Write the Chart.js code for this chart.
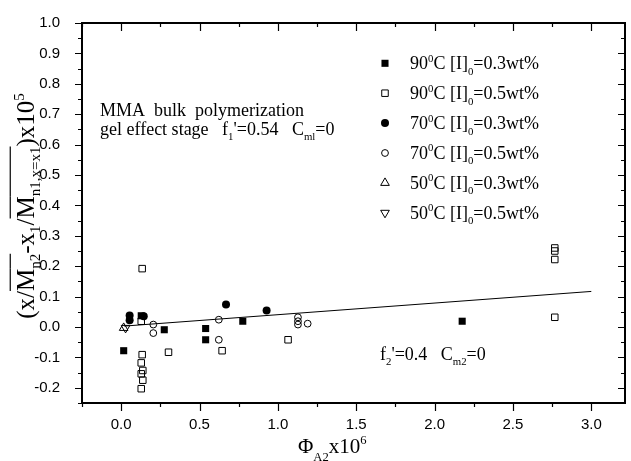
<!DOCTYPE html>
<html>
<head>
<meta charset="utf-8">
<script src="https://cdn.jsdelivr.net/npm/chart.js@4/dist/chart.umd.min.js"></script>
<style>
html,body{margin:0;padding:0;background:#fff;}
canvas{display:block;}
</style>
</head>
<body>
<canvas id="c" width="631" height="461"></canvas>
<script>
// ---- data ----
const xTicks = [0.0, 0.5, 1.0, 1.5, 2.0, 2.5, 3.0];
const yTicks = [-0.2, -0.1, 0.0, 0.1, 0.2, 0.3, 0.4, 0.5, 0.6, 0.7, 0.8, 0.9, 1.0];

const s90_03_x = [0.016, 0.128, 0.275, 0.539, 0.539, 0.776, 2.176];
const s90_03_y = [-0.078, 0.037, -0.009, -0.005, -0.042, 0.019, 0.019];

const s90_05_x = [0.134, 0.128, 0.302, 0.644, 1.065, 0.134, 0.128, 0.138, 0.128, 0.138, 0.128, 2.767, 2.767, 2.767, 2.767];
const s90_05_y = [0.192, 0.019, -0.083, -0.078, -0.042, -0.091, -0.118, -0.143, -0.154, -0.175, -0.203, 0.032, 0.222, 0.250, 0.260];

const s70_03_x = [0.054, 0.054, 0.144, 0.669, 0.928];
const s70_03_y = [0.038, 0.022, 0.035, 0.074, 0.054];

const s70_05_x = [0.205, 0.205, 0.623, 0.623, 1.128, 1.128, 1.128, 1.190];
const s70_05_y = [0.008, -0.020, 0.024, -0.042, 0.032, 0.019, 0.008, 0.011];

const s50_03_x = [0.016];
const s50_03_y = [-0.003];

const s50_05_x = [0.028];
const s50_05_y = [-0.003];

const fitX = [0.02, 3.0];
const fitY = [0.003, 0.117];

const legendLabels = [
  ["90", "0", "C [I]", "0", "=0.3wt%"],
  ["90", "0", "C [I]", "0", "=0.5wt%"],
  ["70", "0", "C [I]", "0", "=0.3wt%"],
  ["70", "0", "C [I]", "0", "=0.5wt%"],
  ["50", "0", "C [I]", "0", "=0.3wt%"],
  ["50", "0", "C [I]", "0", "=0.5wt%"]
];

// ---- helpers ----
const pts = (xs, ys) => xs.map((x, i) => ({x: x, y: ys[i]}));
const SERIF = '"Liberation Serif", "Times New Roman", serif';
const SANS = '"Liberation Sans", Arial, sans-serif';

const styles = [
  {pointStyle: 'rect', radius: 5, fill: '#000', rotation: 0},
  {pointStyle: 'rect', radius: 4.6, fill: 'rgba(0,0,0,0)', rotation: 0},
  {pointStyle: 'circle', radius: 4, fill: '#000', rotation: 0},
  {pointStyle: 'circle', radius: 3.4, fill: 'rgba(0,0,0,0)', rotation: 0},
  {pointStyle: 'triangle', radius: 5, fill: 'rgba(0,0,0,0)', rotation: 0},
  {pointStyle: 'triangle', radius: 5, fill: 'rgba(0,0,0,0)', rotation: 180}
];
const seriesData = [
  pts(s90_03_x, s90_03_y),
  pts(s90_05_x, s90_05_y),
  pts(s70_03_x, s70_03_y),
  pts(s70_05_x, s70_05_y),
  pts(s50_03_x, s50_03_y),
  pts(s50_05_x, s50_05_y)
];

const datasets = seriesData.map((d, i) => ({
  type: 'scatter',
  data: d,
  pointStyle: styles[i].pointStyle,
  pointRadius: styles[i].radius,
  pointRotation: styles[i].rotation,
  backgroundColor: styles[i].fill,
  borderColor: '#000',
  borderWidth: styles[i].fill === '#000' ? 0 : 1
}));
datasets.push({
  type: 'line',
  data: pts(fitX, fitY),
  borderColor: '#000',
  borderWidth: 1,
  pointRadius: 0,
  fill: false,
  tension: 0
});

function drawRich(ctx, segs, x, y, size, family, subOff) {
  const so = subOff || 0.25;
  let cx = x;
  for (const s of segs) {
    let fs = size, dy = 0;
    if (s.k === 'sup') { fs = size * 0.6; dy = -size * 0.42; }
    else if (s.k === 'sub') { fs = size * 0.6; dy = size * so; }
    ctx.font = fs + 'px ' + family;
    ctx.fillText(s.t, cx, y + dy);
    const w = ctx.measureText(s.t).width;
    if (s.over) {
      ctx.save();
      ctx.lineWidth = 1.2;
      ctx.beginPath();
      ctx.moveTo(cx, y - size * 0.95);
      ctx.lineTo(cx + w, y - size * 0.95);
      ctx.stroke();
      ctx.restore();
    }
    cx += w;
  }
  return cx - x;
}
function richWidth(ctx, segs, size, family) {
  let w = 0;
  for (const s of segs) {
    const fs = (s.k === 'sup' || s.k === 'sub') ? size * 0.6 : size;
    ctx.font = fs + 'px ' + family;
    w += ctx.measureText(s.t).width;
  }
  return w;
}

function marker(ctx, st, x, y) {
  ctx.save();
  ctx.fillStyle = st.fill;
  ctx.strokeStyle = '#000';
  ctx.lineWidth = 1;
  const r = st.radius;
  ctx.beginPath();
  if (st.pointStyle === 'rect') {
    const h = r * Math.SQRT1_2;
    ctx.rect(x - h, y - h, 2 * h, 2 * h);
  } else if (st.pointStyle === 'circle') {
    ctx.arc(x, y, r, 0, Math.PI * 2);
  } else {
    const rot = st.rotation * Math.PI / 180;
    for (let k = 0; k < 3; k++) {
      const a = rot - Math.PI / 2 + k * 2 * Math.PI / 3;
      const px = x + Math.cos(a) * r, py = y + Math.sin(a) * r;
      if (k === 0) ctx.moveTo(px, py); else ctx.lineTo(px, py);
    }
    ctx.closePath();
  }
  if (st.fill === '#000') ctx.fill(); else ctx.stroke();
  ctx.restore();
}

const decor = {
  id: 'decor',
  afterDatasetsDraw(chart) {
    const ctx = chart.ctx;
    const a = chart.chartArea;
    const xs = chart.scales.x, ys = chart.scales.y;
    ctx.save();
    ctx.strokeStyle = '#000';
    ctx.fillStyle = '#000';
    // ticks
    ctx.lineWidth = 1.2;
    ctx.beginPath();
    for (let v = -0.25; v <= 3.2001; v += 0.25) {
      const px = Math.round(xs.getPixelForValue(v)) + 0.5;
      const major = Math.abs(v / 0.5 - Math.round(v / 0.5)) < 1e-6;
      const L = major ? 8 : 4;
      ctx.moveTo(px, a.bottom); ctx.lineTo(px, a.bottom + L);
      ctx.moveTo(px, a.top); ctx.lineTo(px, a.top + L);
    }
    for (let v = -0.25; v <= 1.0001; v += 0.05) {
      const py = Math.round(ys.getPixelForValue(v)) + 0.5;
      const major = Math.abs(v / 0.1 - Math.round(v / 0.1)) < 1e-6;
      const L = major ? 7 : 4;
      ctx.moveTo(a.left, py); ctx.lineTo(a.left - L, py);
      ctx.moveTo(a.right, py); ctx.lineTo(a.right - L, py);
    }
    ctx.stroke();
    // frame
    ctx.lineWidth = 2;
    ctx.strokeRect(a.left, a.top, a.right - a.left, a.bottom - a.top);

    // legend
    ctx.textBaseline = 'alphabetic';
    ctx.textAlign = 'left';
    const ly0 = 63.3, ldy = 29.9;
    legendLabels.forEach((lab, i) => {
      const cy = ly0 + i * ldy;
      marker(ctx, styles[i], 385, cy);
      drawRich(ctx, [
        {t: lab[0]}, {t: lab[1], k: 'sup'}, {t: lab[2]}, {t: lab[3], k: 'sub'}, {t: lab[4]}
      ], 410, cy + 6, 18, SERIF, 0.3);
    });

    // annotations
    drawRich(ctx, [{t: 'MMA  bulk  polymerization'}], 100, 116, 18, SERIF);
    drawRich(ctx, [
      {t: 'gel effect stage   f'}, {t: '1', k: 'sub'}, {t: "'=0.54   C"}, {t: 'ml', k: 'sub'}, {t: '=0'}
    ], 100, 135, 18, SERIF, 0.3);
    drawRich(ctx, [
      {t: 'f'}, {t: '2', k: 'sub'}, {t: "'=0.4   C"}, {t: 'm2', k: 'sub'}, {t: '=0'}
    ], 380, 360, 18, SERIF, 0.3);

    // x title
    drawRich(ctx, [{t: '\u03A6'}, {t: 'A2', k: 'sub'}, {t: 'x10'}, {t: '6', k: 'sup'}], 298, 453, 21, SERIF, 0.36);

    // y title (rotated)
    const ySegs = [
      {t: '(x/'}, {t: 'M', over: true}, {t: 'n2', k: 'sub', over: true}, {t: '-x'}, {t: '1', k: 'sub'},
      {t: '/'}, {t: 'M', over: true}, {t: 'n1,x=x1', k: 'sub', over: true}, {t: ')x10'}, {t: '5', k: 'sup'}
    ];
    const yFs = 25;
    const tw = richWidth(ctx, ySegs, yFs, SERIF);
    ctx.translate(34, 206);
    ctx.rotate(-Math.PI / 2);
    drawRich(ctx, ySegs, -tw / 2, 0, yFs, SERIF);
    ctx.restore();
  }
};

new Chart(document.getElementById('c'), {
  data: {datasets: datasets},
  options: {
    responsive: false,
    animation: false,
    events: [],
    layout: {padding: {top: 22, right: 1, left: 0, bottom: 0}},
    plugins: {legend: {display: false}, tooltip: {enabled: false}},
    scales: {
      x: {
        type: 'linear', min: -0.25, max: 3.215,
        afterFit(s) { s.height = 58; },
        afterBuildTicks(s) { s.ticks = xTicks.map(v => ({value: v})); },
        ticks: {
          font: {family: SANS, size: 15}, color: '#000', padding: 5,
          autoSkip: false, maxRotation: 0,
          callback: v => (Math.abs(v) < 1e-9 ? 0 : v).toFixed(1)
        },
        grid: {display: false},
        border: {display: false}
      },
      y: {
        type: 'linear', min: -0.25, max: 1.0,
        afterFit(s) { s.width = 82; },
        afterBuildTicks(s) { s.ticks = yTicks.map(v => ({value: v})); },
        ticks: {
          font: {family: SANS, size: 15}, color: '#000', padding: 14,
          autoSkip: false,
          callback: v => (Math.abs(v) < 1e-9 ? 0 : v).toFixed(1)
        },
        grid: {display: false},
        border: {display: false}
      }
    }
  },
  plugins: [decor]
});
</script>
</body>
</html>
